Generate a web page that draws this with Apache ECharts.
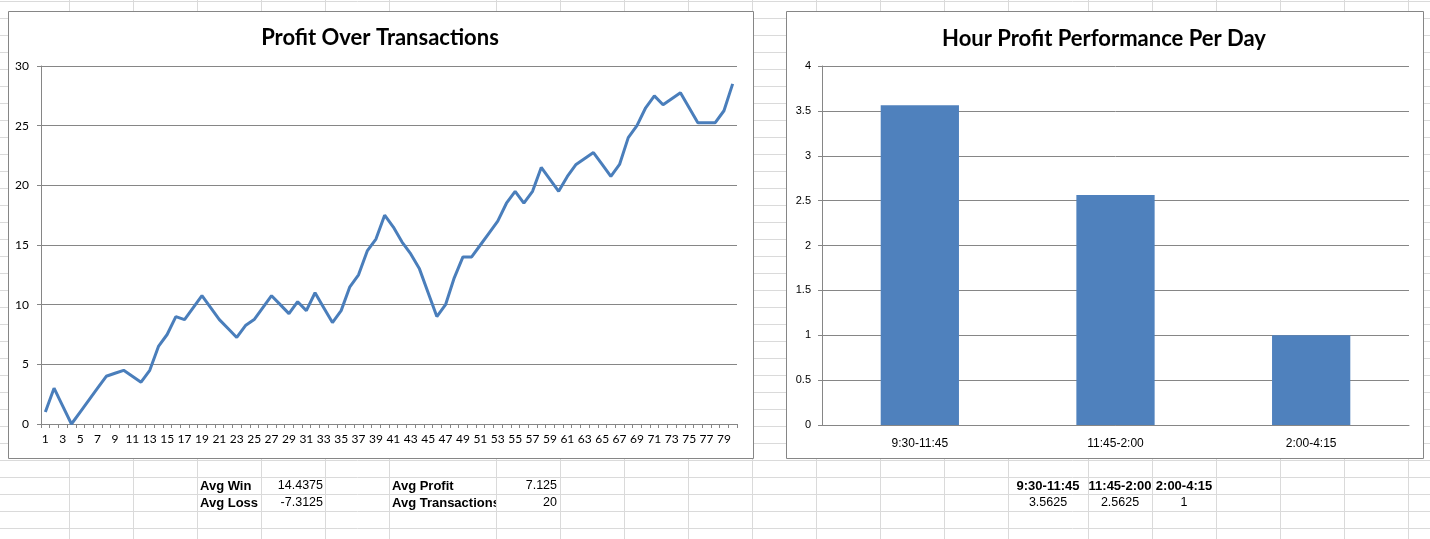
<!DOCTYPE html>
<html>
<head>
<meta charset="utf-8">
<title>Profit charts</title>
<script src="https://cdn.jsdelivr.net/npm/echarts@6/dist/echarts.min.js"></script>
<style>
  html, body { margin: 0; padding: 0; background: #fff; }
  #sheet { width: 1430px; height: 539px; }
</style>
</head>
<body>
<div id="sheet"></div>
<script>
// profit over transactions (line chart)
let transactions = Array.from({length: 80}, function(v, i) { return String(i + 1); });
let profit = [
  1, 3, 1.5, 0, 1, 2, 3, 4, 4.25, 4.5,
  4, 3.5, 4.5, 6.5, 7.5, 9, 8.75, 9.75, 10.75, 9.75,
  8.75, 8, 7.25, 8.25, 8.75, 9.75, 10.75, 10, 9.25, 10.25,
  9.5, 11, 9.75, 8.5, 9.5, 11.5, 12.5, 14.5, 15.5, 17.5,
  16.5, 15.25, 14.25, 13, 11, 9, 10, 12.25, 14, 14,
  15, 16, 17, 18.5, 19.5, 18.5, 19.5, 21.5, 20.5, 19.5,
  20.75, 21.75, 22.25, 22.75, 21.75, 20.75, 21.75, 24, 25, 26.5,
  27.5, 26.75, 27.25, 27.75, 26.5, 25.25, 25.25, 25.25, 26.25, 28.5
];

// hour profit per day (bar chart)
let hours = ['9:30-11:45', '11:45-2:00', '2:00-4:15'];
let hourProfit = [3.5625, 2.5625, 1];

// cells under the charts
let avgWin = 14.4375;
let avgLoss = -7.3125;
let avgProfit = 7.125;
let avgTransactions = 20;

// spreadsheet grid
let colLines = [69, 133, 197, 261, 325, 389, 496, 560, 624, 688, 752, 816, 880, 944, 1008, 1088, 1152, 1216, 1280, 1344, 1408];
let gridColor = '#dadada';
let borderColor = '#868686';
let cellFont = '"Liberation Sans", Arial, sans-serif';

let graphics = [];
colLines.forEach(function(x) {
  graphics.push({type: 'line', z: -10, silent: true,
    shape: {x1: x + 0.5, y1: 0, x2: x + 0.5, y2: 539},
    style: {stroke: gridColor, lineWidth: 1}});
});
for (let y = 1; y < 539; y += 17) {
  graphics.push({type: 'line', z: -10, silent: true,
    shape: {x1: 0, y1: y + 0.5, x2: 1430, y2: y + 0.5},
    style: {stroke: gridColor, lineWidth: 1}});
}

// chart boxes
graphics.push({type: 'rect', z: -5, silent: true,
  shape: {x: 8.5, y: 11.5, width: 745, height: 447},
  style: {fill: '#fff', stroke: borderColor, lineWidth: 1}});
graphics.push({type: 'rect', z: -5, silent: true,
  shape: {x: 786.5, y: 11.5, width: 637, height: 447},
  style: {fill: '#fff', stroke: borderColor, lineWidth: 1}});

function cell(text, x, y, align, bold) {
  graphics.push({type: 'text', z: 10, silent: true, x: x, y: y,
    style: {text: String(text), fill: '#000', align: align, verticalAlign: 'middle',
      font: (bold ? 'bold 13px ' : '12.5px ') + cellFont}});
}

cell('Avg Win', 200, 486, 'left', true);
cell('Avg Loss', 200, 503, 'left', true);
cell(avgWin, 323, 486, 'right', false);
cell(avgLoss, 323, 503, 'right', false);
cell('Avg Profit', 392, 486, 'left', true);
cell('Avg Transactions', 392, 503, 'left', true);
// next cell is filled, so the long label is cut off at its border
graphics.push({type: 'rect', z: 11, silent: true,
  shape: {x: 497, y: 495, width: 63, height: 16}, style: {fill: '#fff'}});
graphics.push({type: 'line', z: 11, silent: true,
  shape: {x1: 496.5, y1: 494, x2: 496.5, y2: 511}, style: {stroke: gridColor, lineWidth: 1}});
cell(avgProfit, 557, 486, 'right', false);
graphics.push({type: 'text', z: 12, silent: true, x: 557, y: 503,
  style: {text: String(avgTransactions), fill: '#000', align: 'right', verticalAlign: 'middle',
    font: '12.5px ' + cellFont}});

let hourCols = [1048, 1120, 1184];
hours.forEach(function(h, i) {
  cell(h, hourCols[i], 486, 'center', true);
  cell(hourProfit[i], hourCols[i], 503, 'center', false);
});

let chart = echarts.init(document.getElementById('sheet'));
let option = {
  animation: false,
  title: [
    {text: 'Profit Over Transactions', left: 375, top: 22, textAlign: 'center',
      textStyle: {fontFamily: 'Lato', fontWeight: 'bold', fontSize: 22, color: '#000'}},
    {text: 'Hour Profit Performance Per Day', left: 1099, top: 23, textAlign: 'center',
      textStyle: {fontFamily: 'Lato', fontWeight: 'bold', fontSize: 22, color: '#000'}}
  ],
  grid: [
    {left: 41, top: 66, width: 696, height: 358},
    {left: 822, top: 66, width: 587, height: 359}
  ],
  xAxis: [
    {
      type: 'category', gridIndex: 0, data: transactions, boundaryGap: true,
      axisLine: {lineStyle: {color: borderColor}},
      axisTick: {show: true, interval: 0, length: 4, lineStyle: {color: borderColor}},
      axisLabel: {interval: 1, margin: 9, color: '#000', fontFamily: 'Lato', fontSize: 12}
    },
    {
      type: 'category', gridIndex: 1, data: hours,
      axisLine: {lineStyle: {color: borderColor}},
      axisTick: {show: false},
      axisLabel: {margin: 13, color: '#000', fontFamily: cellFont, fontSize: 12}
    }
  ],
  yAxis: [
    {
      type: 'value', gridIndex: 0, min: 0, max: 30, interval: 5,
      axisLine: {show: true, lineStyle: {color: borderColor}},
      axisTick: {show: true, length: 4, lineStyle: {color: borderColor}},
      splitLine: {lineStyle: {color: borderColor}},
      axisLabel: {margin: 12, color: '#000', fontFamily: 'Lato', fontSize: 12}
    },
    {
      type: 'value', gridIndex: 1, min: 0, max: 4, interval: 0.5,
      axisLine: {show: true, lineStyle: {color: borderColor}},
      axisTick: {show: true, length: 4, lineStyle: {color: borderColor}},
      splitLine: {lineStyle: {color: borderColor}},
      axisLabel: {margin: 11, color: '#000', fontFamily: cellFont, fontSize: 11}
    }
  ],
  series: [
    {
      name: 'Profit', type: 'line', xAxisIndex: 0, yAxisIndex: 0, data: profit,
      symbol: 'none', lineStyle: {color: '#4a7ebb', width: 3}
    },
    {
      name: 'Hour Profit', type: 'bar', xAxisIndex: 1, yAxisIndex: 1, data: hourProfit,
      barWidth: '40%', itemStyle: {color: '#4f81bd'}
    }
  ],
  graphic: graphics
};
chart.setOption(option);
</script>
</body>
</html>
